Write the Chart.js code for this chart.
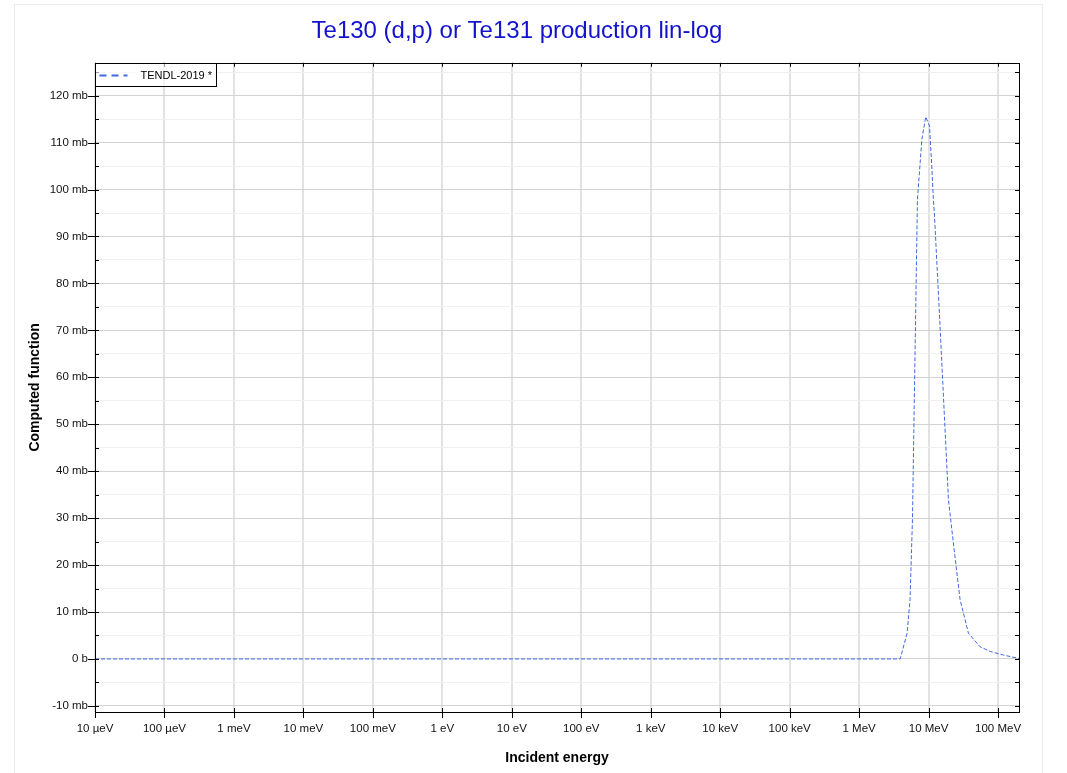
<!DOCTYPE html>
<html>
<head>
<meta charset="utf-8">
<script src="https://cdn.jsdelivr.net/npm/chart.js@4.4.0/dist/chart.umd.min.js"></script>
<style>
  body { margin: 0; background: #fff; overflow: hidden; }
  #wrap { position: absolute; left: 14px; top: 4px; width: 1027px; height: 790px; border: 1px solid #ebebeb; }
  #c { display: block; }
</style>
</head>
<body>
<div id="wrap"><canvas id="c" width="1027" height="768"></canvas></div>
<script>
// values (energy in eV, cross section in mb)
const energies = [1e-5, 3.9e6, 4.9e6, 5.4e6, 5.85e6, 6.9e6, 8.0e6, 9.1e6, 10.3e6, 11.1e6, 11.7e6, 12.1e6, 14.6e6, 19.3e6, 22.7e6, 28.4e6, 37.4e6, 55e6, 77e6, 118e6, 200e6];
const tendl = [0, 0, 5.5, 12.6, 29.6, 97.9, 110.7, 115.5, 113.5, 105, 97.9, 95, 70.9, 33.9, 24.7, 12.6, 5.5, 2.6, 1.6, 0.85, 0.1];

const decades = [1e-5, 1e-4, 1e-3, 1e-2, 1e-1, 1, 10, 100, 1e3, 1e4, 1e5, 1e6, 1e7, 1e8];
const energyLabels = ['10 µeV', '100 µeV', '1 meV', '10 meV', '100 meV', '1 eV', '10 eV', '100 eV', '1 keV', '10 keV', '100 keV', '1 MeV', '10 MeV', '100 MeV'];
const yMajor = [-10, 0, 10, 20, 30, 40, 50, 60, 70, 80, 90, 100, 110, 120];
const yLabels = ['-10 mb', '0 b', '10 mb', '20 mb', '30 mb', '40 mb', '50 mb', '60 mb', '70 mb', '80 mb', '90 mb', '100 mb', '110 mb', '120 mb'];
const yMinor = [-5, 5, 15, 25, 35, 45, 55, 65, 75, 85, 95, 105, 115, 125];

const lineColor = '#4169e1';
const FONT = "'Liberation Sans', Arial, sans-serif";

// box, tick marks and legend
const framePlugin = {
  id: 'frame',
  afterDraw(chart) {
    const { ctx, chartArea: a, scales: { x, y } } = chart;
    ctx.save();
    ctx.strokeStyle = '#000';
    ctx.lineWidth = 1;
    ctx.beginPath();
    decades.forEach(v => {
      const px = Math.round(x.getPixelForValue(v)) + 0.5;
      ctx.moveTo(px, a.bottom - 4); ctx.lineTo(px, a.bottom + 6);
      ctx.moveTo(px, a.top); ctx.lineTo(px, a.top + 4);
    });
    yMajor.forEach(v => {
      const py = Math.round(y.getPixelForValue(v)) + 0.5;
      ctx.moveTo(a.left - 7, py); ctx.lineTo(a.left + 4, py);
      ctx.moveTo(a.right - 4, py); ctx.lineTo(a.right, py);
    });
    yMinor.forEach(v => {
      const py = Math.round(y.getPixelForValue(v)) + 0.5;
      ctx.moveTo(a.left, py); ctx.lineTo(a.left + 4, py);
      ctx.moveTo(a.right - 4, py); ctx.lineTo(a.right, py);
    });
    ctx.stroke();
    ctx.strokeRect(Math.round(a.left) + 0.5, Math.round(a.top) + 0.5, Math.round(a.right - a.left), Math.round(a.bottom - a.top));

    // legend
    const lx = Math.round(a.left) + 0.5, ly = Math.round(a.top) + 0.5;
    ctx.fillStyle = 'rgba(255,255,255,0.6)';
    ctx.fillRect(lx, ly, 121, 23);
    ctx.strokeRect(lx, ly, 121, 23);
    ctx.strokeStyle = lineColor;
    ctx.lineWidth = 2;
    ctx.setLineDash([7, 5]);
    ctx.beginPath();
    ctx.moveTo(lx + 4, ly + 12); ctx.lineTo(lx + 32, ly + 12);
    ctx.stroke();
    ctx.setLineDash([]);
    ctx.fillStyle = '#000';
    ctx.font = '11px ' + FONT;
    ctx.textBaseline = 'middle';
    ctx.fillText('TENDL-2019 *', lx + 45, ly + 12);
    ctx.restore();
  }
};

new Chart(document.getElementById('c'), {
  type: 'line',
  data: {
    datasets: [{
      label: 'TENDL-2019 *',
      data: energies.map((e, i) => ({ x: e, y: tendl[i] })),
      borderColor: lineColor,
      borderWidth: 1,
      borderDash: [4, 2],
      pointRadius: 0,
      tension: 0,
      fill: false
    }]
  },
  options: {
    responsive: false,
    animation: false,
    layout: { padding: { left: 0, right: 23, top: 0, bottom: 0 } },
    plugins: {
      legend: { display: false },
      tooltip: { enabled: false },
      title: {
        display: true,
        text: 'Te130 (d,p) or Te131 production lin-log',
        color: '#1212cf',
        font: { family: FONT, size: 24, weight: 'normal' },
        padding: { top: 12, bottom: 17 }
      }
    },
    scales: {
      x: {
        type: 'logarithmic',
        min: 1e-5,
        max: 2e8,
        afterBuildTicks: s => { s.ticks = decades.map(v => ({ value: v })); },
        afterFit: s => { s.height = 61; },
        ticks: {
          autoSkip: false, maxRotation: 0, padding: 10, color: '#111',
          font: { family: FONT, size: 11.5 },
          callback: (v, i) => energyLabels[i]
        },
        grid: { color: '#e2e2e2', lineWidth: 2, drawTicks: false },
        border: { display: false },
        title: {
          display: true, text: 'Incident energy', color: '#000',
          font: { family: FONT, size: 14, weight: 'bold' },
          padding: { top: 0, bottom: 6 }
        }
      },
      y: {
        type: 'linear',
        min: -11.3,
        max: 127,
        afterBuildTicks: s => {
          s.ticks = yMajor.concat(yMinor).sort((p, q) => p - q).map(v => ({ value: v }));
        },
        afterFit: s => { s.width = 80; },
        ticks: {
          autoSkip: false, padding: 7, color: '#111',
          font: { family: FONT, size: 11.5 },
          callback: v => { const k = yMajor.indexOf(v); return k >= 0 ? yLabels[k] : ''; }
        },
        grid: {
          drawTicks: false,
          color: c => (yMajor.includes(c.tick.value) ? '#d2d2d2' : '#f0f0f0'),
          lineWidth: 1
        },
        border: { display: false },
        title: {
          display: true, text: 'Computed function', color: '#000',
          font: { family: FONT, size: 14, weight: 'bold' },
          padding: { top: 12, bottom: 0 }
        }
      }
    }
  },
  plugins: [framePlugin]
});
</script>
</body>
</html>
